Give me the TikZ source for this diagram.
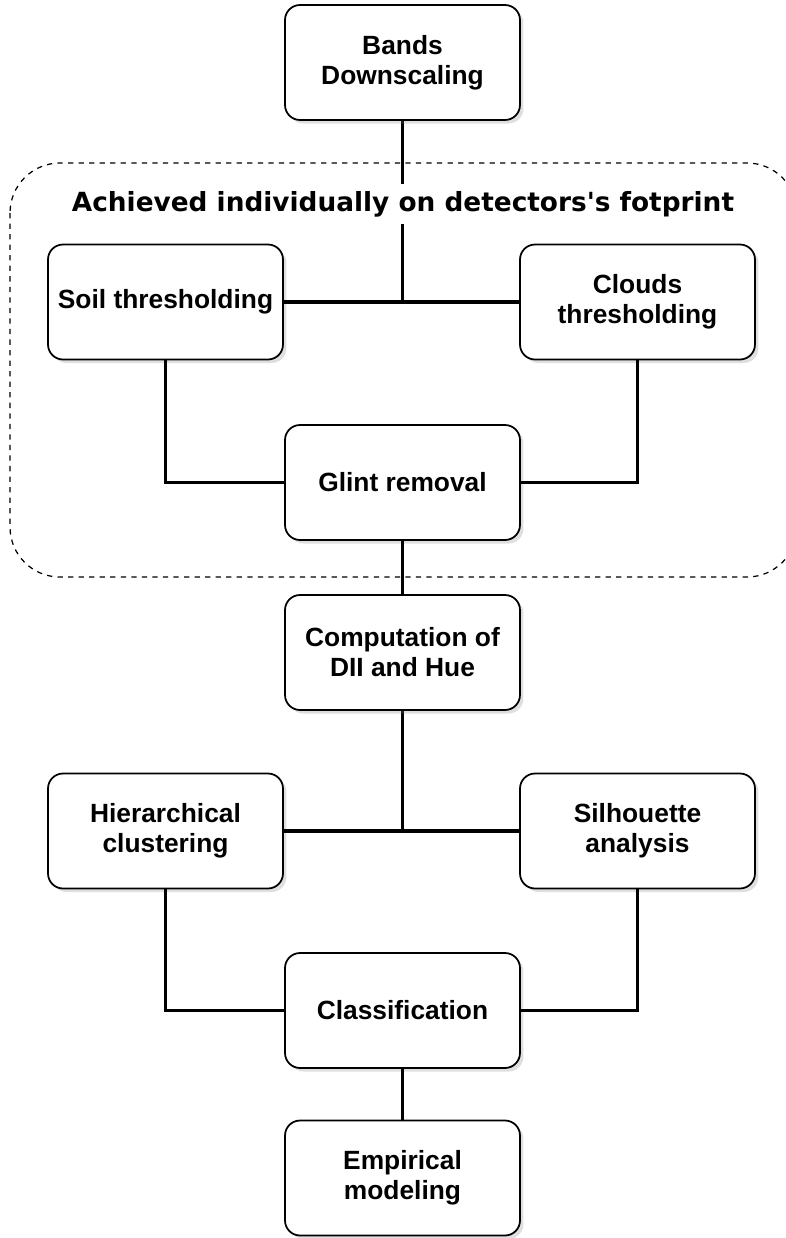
\documentclass[tikz,border=0pt]{standalone}
\usepackage{fontspec}
\setmainfont{Liberation Sans}
\newfontfamily\titlefont{DejaVu Sans}
\usepackage{tikz}
\usetikzlibrary{shadows}

\begin{document}
\begin{tikzpicture}[x=0.02cm,y=-0.02cm,
  stepbox/.style={draw,line width=1pt,rounded corners=0.3cm,fill=white,
    minimum width=4.7cm,minimum height=2.3cm,align=center,
    font=\fontsize{15}{17}\selectfont\bfseries,
    drop shadow={opacity=0.25,shadow xshift=2pt,shadow yshift=-2pt}},
  link/.style={line width=2.2pt}]
\useasboundingbox (0,0) rectangle (785,1238);

% group frame
\draw[dashed,line width=0.7pt,rounded corners=1cm] (10,163) rectangle (797,577);

% links drawn first
\coordinate (top) at (402.5,62.5);
\coordinate (mid) at (402.5,652.5);
\draw[link] (top) -- (402.5,302);
\draw[link] (mid) -- (402.5,831);

\node[fill=white,inner sep=0pt,minimum height=0.8cm] (title) at (403,204)
  {\titlefont\fontsize{15}{17}\selectfont\bfseries Achieved individually on detectors's fotprint};

\node[stepbox] (bands) at (402.5,62.5) {Bands\\Downscaling};
\node[stepbox] (soil) at (165.5,302) {Soil thresholding};
\node[stepbox] (clouds) at (637.5,302) {Clouds\\thresholding};
\node[stepbox] (glint) at (402.5,482.5) {Glint removal};
\node[stepbox] (comp) at (402.5,652.5) {Computation of\\DII and Hue};
\node[stepbox] (hier) at (165.5,831) {Hierarchical\\clustering};
\node[stepbox] (silh) at (637.5,831) {Silhouette\\analysis};
\node[stepbox] (classif) at (402.5,1010.5) {Classification};
\node[stepbox] (empir) at (402.5,1178) {Empirical\\modeling};

\draw[link] (soil) -- (clouds);
\draw[link] (soil) |- (glint);
\draw[link] (clouds) |- (glint);
\draw[link] (glint) -- (comp);
\draw[link] (hier) -- (silh);
\draw[link] (hier) |- (classif);
\draw[link] (silh) |- (classif);
\draw[link] (classif) -- (empir);
\end{tikzpicture}
\end{document}
